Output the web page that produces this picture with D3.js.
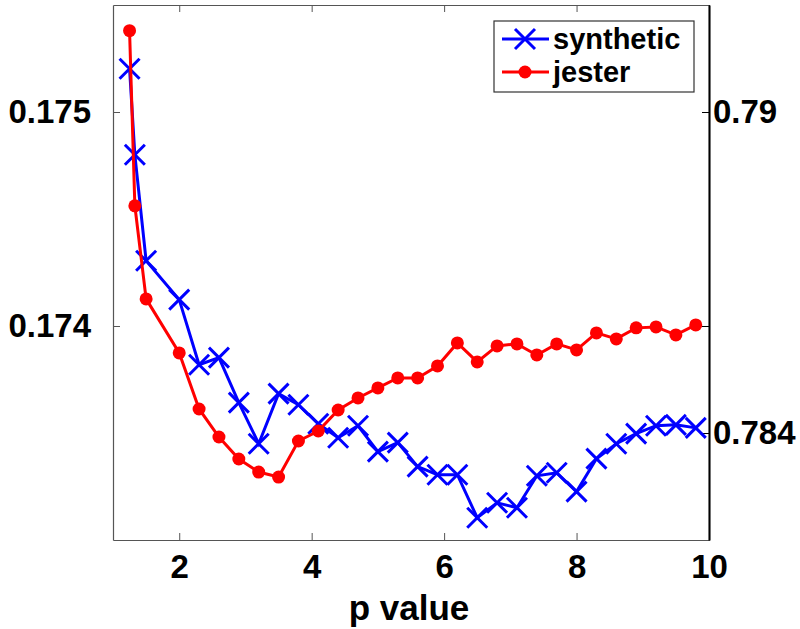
<!DOCTYPE html>
<html>
<head>
<meta charset="utf-8">
<script src="https://cdn.jsdelivr.net/npm/d3@7"></script>
<style>
  body { margin: 0; background: #fff; }
  text { font-family: "Liberation Sans", Arial, sans-serif; font-weight: bold; fill: #000; }
</style>
</head>
<body>
<div id="chart"></div>
<script>
// Step 0: Data
// =================================
var pValues = [1.25, 1.33, 1.5, 2.0, 2.3, 2.6, 2.9, 3.2, 3.5, 3.8, 4.1, 4.4, 4.7, 5.0, 5.3,
               5.6, 5.9, 6.2, 6.5, 6.8, 7.1, 7.4, 7.7, 8.0, 8.3, 8.6, 8.9, 9.2, 9.5, 9.8];

// synthetic -> left axis
var synthetic = [0.175202, 0.174800, 0.174305, 0.174123, 0.173819, 0.173852, 0.173642, 0.173450,
                 0.173684, 0.173632, 0.173543, 0.173478, 0.173534, 0.173413, 0.173455, 0.173343,
                 0.173305, 0.173305, 0.173104, 0.173174, 0.173151, 0.173300, 0.173314, 0.173226,
                 0.173380, 0.173450, 0.173497, 0.173534, 0.173538, 0.173524];

// jester -> right axis
var jester = [0.791521, 0.788247, 0.786507, 0.785497, 0.784449, 0.783925, 0.783514, 0.783270,
              0.783177, 0.783850, 0.784037, 0.784430, 0.784655, 0.784842, 0.785029, 0.785029,
              0.785253, 0.785684, 0.785328, 0.785628, 0.785665, 0.785459, 0.785665, 0.785553,
              0.785871, 0.785759, 0.785965, 0.785983, 0.785834, 0.786021];

var xTicks      = [2, 4, 6, 8, 10];
var leftTicks   = [0.174, 0.175];
var rightTicks  = [0.784, 0.79];
var seriesNames = ["synthetic", "jester"];

// Step 1: Set up our chart
// =================================
var svgWidth  = 800;
var svgHeight = 629;

var plot = { left: 113, right: 709, top: 5, bottom: 540 };

var svg = d3.select("#chart")
  .append("svg")
  .attr("width", svgWidth)
  .attr("height", svgHeight);

// Step 2: Scales
// =================================
var xScale = d3.scaleLinear().domain([1, 10]).range([plot.left, plot.right]);
var yLeft  = d3.scaleLinear().domain([0.173, 0.1755]).range([plot.bottom, plot.top]);
var yRight = d3.scaleLinear().domain([0.782, 0.792]).range([plot.bottom, plot.top]);

// Step 3: Axes (MATLAB style, ticks pointing inward)
// =================================
function styleAxis(g, color, width) {
  g.select(".domain").attr("stroke", color).attr("stroke-width", width);
  g.selectAll(".tick line").attr("stroke", color).attr("stroke-width", 1);
  g.selectAll("text").attr("font-size", 33).attr("fill", "#000")
    .style("font-family", "'Liberation Sans', Arial, sans-serif").style("font-weight", "bold");
}

var axisGrey = "#555";

svg.append("g")
  .attr("transform", `translate(0, ${plot.bottom})`)
  .call(d3.axisBottom(xScale).tickValues(xTicks).tickSizeInner(-7).tickSizeOuter(0)
          .tickPadding(15).tickFormat(d3.format("d")))
  .call(g => styleAxis(g, axisGrey, 1.2));

svg.append("g")
  .attr("transform", `translate(0, ${plot.top})`)
  .call(d3.axisTop(xScale).tickValues(xTicks).tickSizeInner(-7).tickSizeOuter(0).tickFormat(""))
  .call(g => styleAxis(g, axisGrey, 1.2));

svg.append("g")
  .attr("transform", `translate(${plot.left}, 0)`)
  .call(d3.axisLeft(yLeft).tickValues(leftTicks).tickSizeInner(-7).tickSizeOuter(0)
          .tickPadding(22).tickFormat(d3.format(".3f")))
  .call(g => styleAxis(g, axisGrey, 1.2));

// mirrored left ticks on the right side (box on)
svg.append("g")
  .attr("transform", `translate(${plot.right}, 0)`)
  .call(d3.axisRight(yLeft).tickValues(leftTicks).tickSizeInner(-7).tickSizeOuter(0).tickFormat(""))
  .call(g => styleAxis(g, "#000", 1.2));

svg.append("g")
  .attr("transform", `translate(${plot.right}, 0)`)
  .call(d3.axisRight(yRight).tickValues(rightTicks).tickSizeInner(-7).tickSizeOuter(0)
          .tickPadding(4).tickFormat(d => d3.format(".3~f")(d)))
  .call(g => styleAxis(g, "#000", 2));

// x axis label
svg.append("text")
  .attr("x", 409)
  .attr("y", 620)
  .attr("text-anchor", "middle")
  .attr("font-size", 35)
  .text("p value");

// Step 4: Lines and markers
// =================================
var synthData = pValues.map((p, i) => ({ p: p, v: synthetic[i] }));
var jestData  = pValues.map((p, i) => ({ p: p, v: jester[i] }));

var lineLeft  = d3.line().x(d => xScale(d.p)).y(d => yLeft(d.v));
var lineRight = d3.line().x(d => xScale(d.p)).y(d => yRight(d.v));

function crossPath(cx, cy, s) {
  return `M${cx - s},${cy - s}L${cx + s},${cy + s}M${cx - s},${cy + s}L${cx + s},${cy - s}`;
}

svg.append("path")
  .datum(synthData)
  .attr("d", lineLeft)
  .attr("fill", "none")
  .attr("stroke", "#0000ff")
  .attr("stroke-width", 3);

svg.append("g")
  .selectAll("path")
  .data(synthData)
  .enter().append("path")
  .attr("d", d => crossPath(xScale(d.p), yLeft(d.v), 10))
  .attr("stroke", "#0000ff")
  .attr("stroke-width", 3)
  .attr("fill", "none");

svg.append("path")
  .datum(jestData)
  .attr("d", lineRight)
  .attr("fill", "none")
  .attr("stroke", "#ff0000")
  .attr("stroke-width", 3);

svg.append("g")
  .selectAll("circle")
  .data(jestData)
  .enter().append("circle")
  .attr("cx", d => xScale(d.p))
  .attr("cy", d => yRight(d.v))
  .attr("r", 6.5)
  .attr("fill", "#ff0000");

// Step 5: Legend
// =================================
var legend = svg.append("g").attr("transform", "translate(494, 21)");

legend.append("rect")
  .attr("width", 200)
  .attr("height", 71)
  .attr("fill", "#fff")
  .attr("stroke", "#333")
  .attr("stroke-width", 1.2);

var legendRows = legend.selectAll("g.row")
  .data(seriesNames)
  .enter().append("g")
  .attr("class", "row")
  .attr("transform", (d, i) => `translate(0, ${18 + 33 * i})`);

legendRows.append("line")
  .attr("x1", 8).attr("x2", 55)
  .attr("stroke", (d, i) => i === 0 ? "#0000ff" : "#ff0000")
  .attr("stroke-width", 3);

legendRows.filter((d, i) => i === 0).append("path")
  .attr("d", crossPath(31, 0, 10))
  .attr("stroke", "#0000ff")
  .attr("stroke-width", 3);

legendRows.filter((d, i) => i === 1).append("circle")
  .attr("cx", 31)
  .attr("r", 6.5)
  .attr("fill", "#ff0000");

legendRows.append("text")
  .attr("x", 59)
  .attr("dy", "0.35em")
  .attr("font-size", 29)
  .text(d => d);
</script>
</body>
</html>
